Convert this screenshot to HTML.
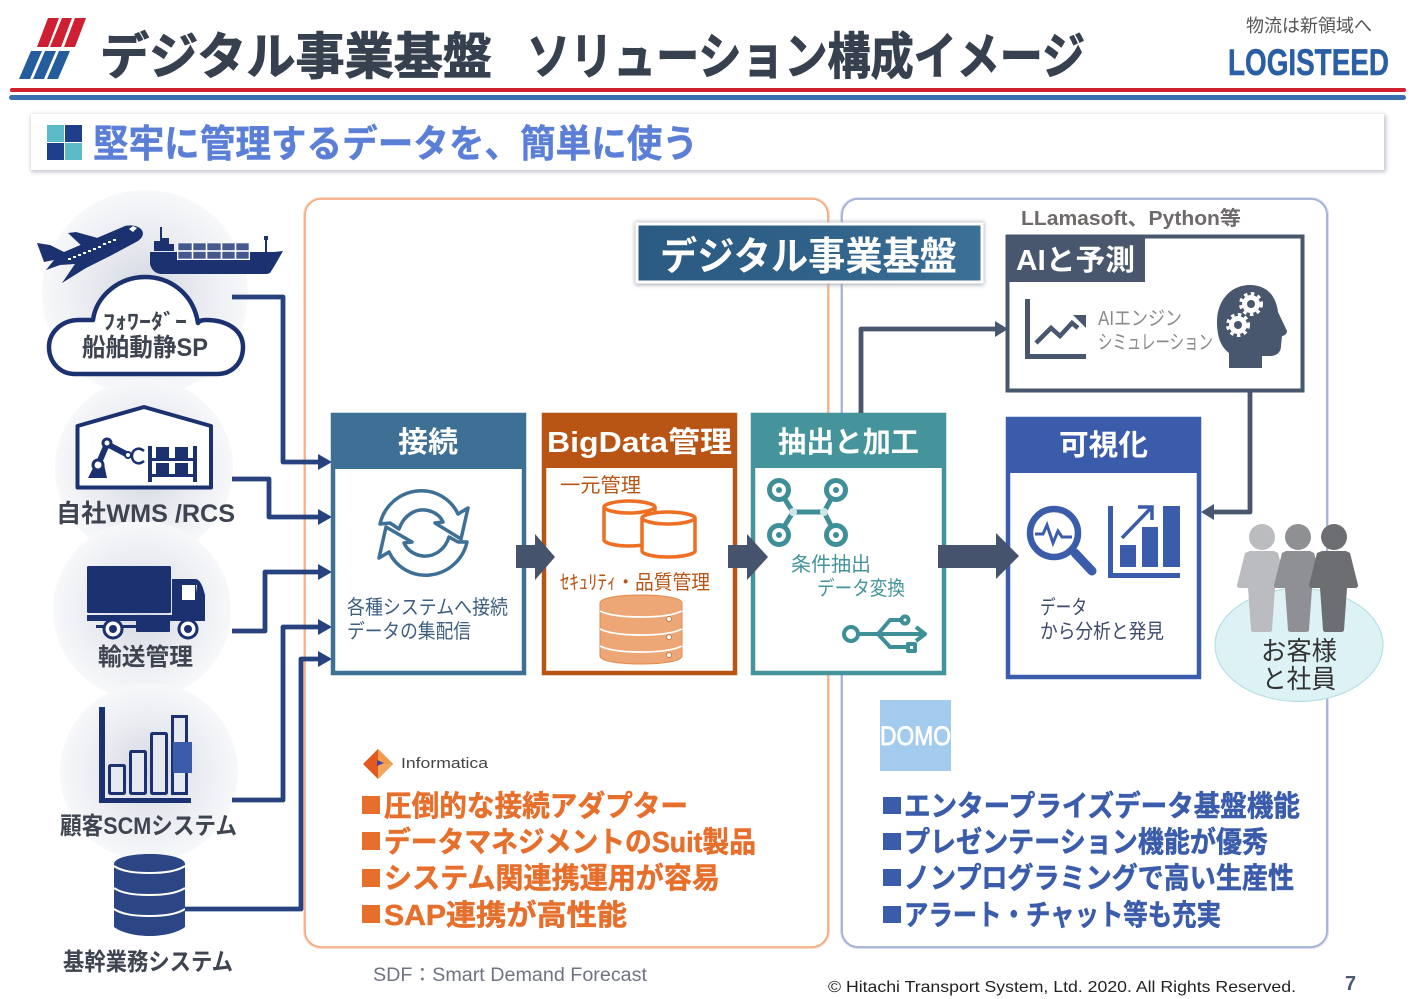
<!DOCTYPE html>
<html lang="ja"><head><meta charset="utf-8"><title>デジタル事業基盤 ソリューション構成イメージ</title>
<style>
html,body{margin:0;padding:0;background:#fff;width:1414px;height:999px;overflow:hidden}
svg{display:block}
text{font-family:"Liberation Sans","Noto Sans CJK JP",sans-serif}
.b{font-weight:700}
</style></head><body>
<svg width="1414" height="999" viewBox="0 0 1414 999" xmlns="http://www.w3.org/2000/svg">
<defs>
<radialGradient id="halo"><stop offset="0" stop-color="#d3d7e1"/><stop offset=".55" stop-color="#e9ebf0"/><stop offset="1" stop-color="#f7f8fa"/></radialGradient>
<linearGradient id="hdr" x1="0" x2="1"><stop offset="0" stop-color="#2b5a82"/><stop offset=".5" stop-color="#2f6189"/><stop offset="1" stop-color="#3d7097"/></linearGradient>
<filter id="sh" x="-5%" y="-10%" width="110%" height="120%"><feGaussianBlur stdDeviation="2"/></filter>
</defs>

<!-- logo -->
<g fill="#cf1f32"><path d="M48 18h11l-11 29H37zM62 18h10L61 47H50zM75 18h11L75 47H64z"/></g>
<g fill="#245c9e"><path d="M31 51h11L30 79H19zM45 51h11L44 79H33zM59 51h11L58 79H47z"/></g>

<text x="100" y="74" class="b" font-size="50" fill="#37404f" stroke="#37404f" stroke-width="1" textLength="392" lengthAdjust="spacingAndGlyphs">デジタル事業基盤</text>
<text x="527" y="74" class="b" font-size="50" fill="#37404f" stroke="#37404f" stroke-width="1" textLength="558" lengthAdjust="spacingAndGlyphs">ソリューション構成イメージ</text>
<text x="1246" y="32" font-size="18" fill="#555" textLength="126" lengthAdjust="spacingAndGlyphs">物流は新領域へ</text>
<text x="1228" y="75" class="b" font-size="37" fill="#2a5fa5" stroke="#2a5fa5" stroke-width=".5" textLength="161" lengthAdjust="spacingAndGlyphs">LOGISTEED</text>

<rect x="10" y="88" width="1396" height="4" rx="2" fill="#d1202f"/>
<rect x="9" y="95" width="1397" height="5" rx="2.5" fill="#3a70ae"/>

<!-- subtitle -->
<rect x="31" y="115" width="1355" height="57" fill="#c0c3cc" filter="url(#sh)"/>
<rect x="31" y="114" width="1353" height="56" fill="#fff"/>
<rect x="47" y="125" width="17" height="17" fill="#5bbcc8"/><rect x="65" y="125" width="17" height="17" fill="#1f3f8c"/>
<rect x="47" y="143" width="17" height="17" fill="#1f3f8c"/><rect x="65" y="143" width="17" height="17" fill="#5bbcc8"/>
<text x="93" y="157" class="b" font-size="38" fill="#5b7fd6" stroke="#5b7fd6" stroke-width=".4" textLength="605" lengthAdjust="spacingAndGlyphs">堅牢に管理するデータを、簡単に使う</text>

<!-- panels -->
<rect x="305" y="199" width="523" height="748" rx="16" fill="none" stroke="#fbd9c4" stroke-width="4"/>
<rect x="305" y="199" width="523" height="748" rx="16" fill="#fff" stroke="#f3a77c" stroke-width="1.600"/>
<rect x="842" y="199" width="485" height="748" rx="16" fill="none" stroke="#d9def0" stroke-width="4"/>
<rect x="842" y="199" width="485" height="748" rx="16" fill="#fff" stroke="#a3b1d4" stroke-width="1.800"/>

<!-- halos -->
<circle cx="145" cy="293" r="103" fill="url(#halo)"/>
<circle cx="144" cy="468" r="89" fill="url(#halo)"/>
<circle cx="142" cy="610" r="89" fill="url(#halo)"/>
<circle cx="149" cy="772" r="89" fill="url(#halo)"/>

<!-- plane -->
<path fill="#1b3170" d="M37 243L50 245L64 252L125 226Q135 224 141 229Q146 235 138 241L110 256L86 268L62 283L75 264L60 265L46 270L54 260L44 262Z"/>
<path fill="#1b3170" d="M68 233L76 232L105 240L86 250Z"/>
<path fill="#fff" d="M129 229l4-3 4 2-4 4zM68 258h3v2h-3zM73 256h3v2h-3zM78 254h3v2h-3zM83 252h3v2h-3zM88 250h3v2h-3zM93 248h3v2h-3zM98 246h3v2h-3zM103 243h3v2h-3zM108 241h3v2h-3zM113 239h3v2h-3z"/>
<!-- ship -->
<path fill="#1b3170" d="M150 252h124l9-1-8 14-5 8-3 1H162c-7 0-11-5-12-10z"/>
<path fill="#1b3170" d="M160 227h2v11h7v6h5v7h-20v-10h6z"/>
<path fill="#1b3170" d="M264 236h4v4h-1v12h-2v-12h-1z"/>
<rect x="177" y="243" width="73" height="17" fill="#fff"/>
<g stroke="#fff" stroke-width=".6" fill="#46598f"><rect x="178" y="243" width="14" height="7.500"/><rect x="193" y="243" width="13" height="7.500"/><rect x="207" y="243" width="14" height="7.500"/><rect x="222" y="243" width="13" height="7.500"/><rect x="236" y="243" width="13" height="7.500"/></g>
<g stroke="#fff" stroke-width=".6" fill="#46598f"><rect x="178" y="251.500" width="14" height="7.500"/><rect x="193" y="251.500" width="13" height="7.500"/><rect x="207" y="251.500" width="14" height="7.500"/><rect x="222" y="251.500" width="13" height="7.500"/><rect x="236" y="251.500" width="13" height="7.500"/></g>

<!-- cloud -->
<path d="M75 374c-16 0-26-13-26-27 0-14 12-27 30-27h14c3-24 26-43 52-43 25 0 46 16 52 41l1 5c1-2 4-3 8-3 21 0 37 10 37 27 0 16-11 27-26 27z" fill="#fff" stroke="#1b3170" stroke-width="4.500" stroke-linejoin="round"/>
<text x="103" y="329" class="b" font-size="21" fill="#3e4450" textLength="84" lengthAdjust="spacingAndGlyphs">ﾌｫﾜｰﾀﾞｰ</text>
<text x="82" y="356" class="b" font-size="25" fill="#3e4450" textLength="126" lengthAdjust="spacingAndGlyphs">船舶動静SP</text>

<!-- warehouse -->
<path d="M77.500 487.500V426L144 407l67 19v61.500z" fill="#fff" stroke="#1b3170" stroke-width="4" stroke-linejoin="round"/>
<path fill="none" stroke="#1b3170" stroke-width="6" d="M98 465l9-21M107 444l21 11"/>
<path fill="#1b3170" d="M88 478l7-14h9l3 14z"/>
<circle cx="98" cy="465" r="5" fill="#fff" stroke="#1b3170" stroke-width="3"/>
<circle cx="107" cy="443" r="4" fill="#fff" stroke="#1b3170" stroke-width="3"/>
<circle cx="128" cy="455" r="3" fill="#fff" stroke="#1b3170" stroke-width="2"/>
<path fill="none" stroke="#1b3170" stroke-width="2.500" d="M144 451c-6-5-12-1-12 5s6 10 12 5"/>
<g fill="#1b3170"><rect x="148" y="446" width="4" height="36"/><rect x="193" y="446" width="4" height="36"/><rect x="148" y="458" width="49" height="3"/><rect x="148" y="474" width="49" height="3"/>
<rect x="156" y="447" width="13" height="11"/><rect x="175" y="447" width="13" height="11"/><rect x="156" y="463" width="13" height="11"/><rect x="175" y="463" width="13" height="11"/></g>
<text x="56" y="522" class="b" font-size="25" fill="#3e4450" textLength="179" lengthAdjust="spacingAndGlyphs">自社WMS /RCS</text>

<!-- truck -->
<rect x="87" y="566" width="84" height="47" rx="1.500" fill="#1b3170"/>
<path fill="#1b3170" d="M172 579h23c4 0 6 4 8 9l2 7v26H172z"/>
<rect x="87" y="615" width="118" height="6" fill="#1b3170"/>
<path fill="#fff" d="M182 585h15v15h-15z"/><path fill="#1b3170" d="M196 585l2 15h-3v-15z"/>
<rect x="96" y="625" width="40" height="3" fill="#1b3170"/>
<rect x="136" y="620" width="34" height="12" rx="1" fill="#1b3170"/>
<circle cx="113" cy="629" r="9" fill="#fff" stroke="#1b3170" stroke-width="3"/><circle cx="113" cy="629" r="4" fill="#1b3170"/>
<circle cx="188" cy="629" r="9" fill="#fff" stroke="#1b3170" stroke-width="3"/><circle cx="188" cy="629" r="4" fill="#1b3170"/>
<text x="98" y="665" class="b" font-size="24" fill="#3e4450" textLength="95" lengthAdjust="spacingAndGlyphs">輸送管理</text>

<!-- scm chart -->
<path fill="#1b3170" d="M99 707h6v91h86v5H99z"/>
<g fill="#e6e9ef" stroke="#1b3170" stroke-width="3"><rect x="109.500" y="765.500" width="15" height="28" rx="1"/><rect x="130.500" y="751.500" width="15" height="42" rx="1"/><rect x="151.500" y="733.500" width="15" height="60" rx="1"/><rect x="172.500" y="716.500" width="14" height="77"/></g>
<rect x="173" y="742" width="19" height="31" fill="#3a5cab"/>
<text x="60" y="834" class="b" font-size="24" fill="#3e4450" textLength="177" lengthAdjust="spacingAndGlyphs">顧客SCMシステム</text>

<!-- db -->
<path fill="#2c4584" d="M114 864c0-6 16-10 35.500-10s35.500 4 35.500 10v63c-6 5-20 9-35.500 9s-29-4-35.500-9z"/>
<g fill="none" stroke="#fff" stroke-width="2"><path d="M114 866c7 5 20 7 35.500 7s28-2 35.500-7"/><path d="M114 888c7 5 20 7 35.500 7s28-2 35.500-7"/><path d="M114 909c7 5 20 7 35.500 7s28-2 35.500-7"/></g>
<text x="63" y="970" class="b" font-size="24" fill="#3e4450" textLength="170" lengthAdjust="spacingAndGlyphs">基幹業務システム</text>

<!-- connectors -->
<g fill="none" stroke="#27427f" stroke-width="4.800" stroke-linejoin="round">
<path d="M232 297h51v165h40"/><path d="M232 479h37v38h54"/><path d="M232 631h33v-59h58"/><path d="M232 800h51V627h40"/><path d="M185 909h116V659h22"/>
</g>
<g fill="#27427f"><path d="M318 454l14 8-14 8zM318 509l14 8-14 8zM318 564l14 8-14 8zM318 619l14 8-14 8zM318 651l14 8-14 8z"/></g>

<!-- header label -->
<rect x="635" y="222" width="349" height="63" fill="#a9aeb8" filter="url(#sh)"/>
<rect x="637" y="224" width="345" height="58" fill="url(#hdr)" stroke="#fff" stroke-width="3"/>
<text x="660" y="270" class="b" font-size="39" fill="#fff" textLength="297" lengthAdjust="spacingAndGlyphs">デジタル事業基盤</text>

<text x="1021" y="225" class="b" font-size="20" fill="#6f6a6a" textLength="220" lengthAdjust="spacingAndGlyphs">LLamasoft、Python等</text>

<!-- box 1 -->
<rect x="333" y="415" width="191" height="258" fill="#fff" stroke="#3e7096" stroke-width="4.500"/>
<rect x="331" y="413" width="195" height="56" fill="#3e7096"/>
<text x="398" y="452" class="b" font-size="29" fill="#fff" textLength="60" lengthAdjust="spacingAndGlyphs">接続</text>
<g fill="none" stroke="#3e7096" stroke-width="3.500" stroke-linejoin="round">
<path d="M386 522l9 6c5-14 16-20 26-19 8 1 15 5 18 12l-8 1 26 16 7-31-10 6c-7-15-23-25-41-23-18 2-33 15-37 33z" transform="translate(4 1)"/>
<path d="M462 527l-9-5c-4 13-15 20-26 19-9-1-16-6-19-13l8-1-26-15-7 31 10-6c7 15 23 25 41 23 18-2 33-15 37-33z" transform="translate(-4 15)"/>
</g>
<text x="347" y="614" font-size="20" fill="#3e5f80" textLength="161" lengthAdjust="spacingAndGlyphs">各種システムへ接続</text>
<text x="347" y="638" font-size="20" fill="#3e5f80" textLength="124" lengthAdjust="spacingAndGlyphs">データの集配信</text>

<!-- box 2 -->
<rect x="544" y="415" width="191" height="258" fill="#fff" stroke="#b85414" stroke-width="4.500"/>
<rect x="542" y="413" width="195" height="55" fill="#b85414"/>
<text x="547" y="452" class="b" font-size="29" fill="#fff" textLength="185" lengthAdjust="spacingAndGlyphs">BigData管理</text>
<text x="560" y="492" font-size="20" fill="#b85414" textLength="81" lengthAdjust="spacingAndGlyphs">一元管理</text>
<g fill="#fff" stroke="#ee6f22" stroke-width="3.500">
<path d="M604 507c0-3 12-6 25-6s26 3 26 6v33c0 3-12 6-26 6s-25-3-25-6z"/><path d="M604 507c0 3 12 6 25 6s26-3 26-6"/>
<path d="M642 518c0-3 12-6 26-6s27 3 27 6v33c0 3-12 6-27 6s-26-3-26-6z"/><path d="M642 518c0 3 12 6 26 6s27-3 27-6"/>
</g>
<text x="560" y="589" font-size="20" fill="#b85414" textLength="150" lengthAdjust="spacingAndGlyphs">ｾｷｭﾘﾃｨ・品質管理</text>
<g fill="#eda675" stroke="#e18a50" stroke-width="1">
<path d="M600 603c0-5 18-8 41-8s41 3 41 8v53c0 5-18 8-41 8s-41-3-41-8z"/>
</g>
<g fill="none" stroke="#fff" stroke-width="1.800"><path d="M600 611c8 4 23 6 41 6s33-2 41-6"/><path d="M600 629c8 4 23 6 41 6s33-2 41-6"/><path d="M600 646c8 4 23 6 41 6s33-2 41-6"/></g>
<g fill="#fff" stroke="#c97a45"><circle cx="669" cy="619" r="2.500"/><circle cx="669" cy="637" r="2.500"/><circle cx="669" cy="655" r="2.500"/></g>

<!-- box 3 -->
<rect x="753" y="415" width="191" height="258" fill="#fff" stroke="#45949c" stroke-width="4.500"/>
<rect x="751" y="413" width="195" height="55" fill="#45949c"/>
<text x="778" y="452" class="b" font-size="29" fill="#fff" textLength="141" lengthAdjust="spacingAndGlyphs">抽出と加工</text>
<g fill="none" stroke="#3f8f98">
<path d="M779 490l14 22h31l12-22M779 535l14-23M824 512l12 23" stroke-width="5"/>
<circle cx="779" cy="490" r="9.500" stroke-width="5" fill="#fff"/><circle cx="836" cy="490" r="9.500" stroke-width="5" fill="#fff"/><circle cx="779" cy="535" r="9.500" stroke-width="5" fill="#fff"/><circle cx="836" cy="535" r="9.500" stroke-width="5" fill="#fff"/>
</g>
<g fill="#3f8f98"><circle cx="779" cy="490" r="3"/><circle cx="836" cy="490" r="3"/><circle cx="779" cy="535" r="3"/><circle cx="836" cy="535" r="3"/></g>
<g fill="#cfe6e8"><circle cx="793" cy="512" r="4"/><circle cx="824" cy="512" r="4"/></g>
<text x="791" y="571" font-size="20" fill="#45949c" textLength="80" lengthAdjust="spacingAndGlyphs">条件抽出</text>
<text x="817" y="595" font-size="20" fill="#45949c" textLength="88" lengthAdjust="spacingAndGlyphs">データ変換</text>
<g fill="none" stroke="#3f8f98" stroke-width="4" stroke-linejoin="round">
<ellipse cx="851" cy="634" rx="7" ry="7"/><path d="M858 634h64M878 634l12-14h12M878 634l12 13h18"/>
<path d="M916 627l9 7-9 7"/><circle cx="905" cy="620" r="3.500"/><rect x="908" y="644" width="7" height="7"/>
</g>

<!-- box 4 -->
<rect x="1008" y="419" width="191" height="258" fill="#fff" stroke="#3a5cab" stroke-width="4.500"/>
<rect x="1006" y="417" width="195" height="56" fill="#3a5cab"/>
<text x="1059" y="455" class="b" font-size="29" fill="#fff" textLength="89" lengthAdjust="spacingAndGlyphs">可視化</text>
<g fill="none" stroke="#3a5cab"><circle cx="1054" cy="533" r="24" stroke-width="6.500"/><path d="M1075 553l17 18" stroke-width="9" stroke-linecap="round"/><path d="M1035 534h8l4-9 6 18 5-12 4 6h10" stroke-width="3"/></g>
<g fill="#3a5cab"><path d="M1108 506h5v67h67v5h-72z"/><rect x="1120" y="545" width="16" height="22"/><rect x="1142" y="527" width="16" height="40"/><rect x="1163" y="506" width="17" height="61"/></g>
<path d="M1122 538l28-29M1138 507h14v13" stroke="#3a5cab" stroke-width="3.500" fill="none"/>
<text x="1040" y="614" font-size="20" fill="#3d4a6c" textLength="47" lengthAdjust="spacingAndGlyphs">データ</text>
<text x="1040" y="638" font-size="20" fill="#3d4a6c" textLength="124" lengthAdjust="spacingAndGlyphs">から分析と発見</text>

<!-- arrows -->
<g fill="#46536c"><path d="M516 545h19v-11l20 23-20 23v-12h-19z"/><path d="M728 545h19v-11l21 23-21 23v-12h-19z"/><path d="M938 545h58v-12l23 23-23 23v-11h-58z"/></g>

<!-- AI box -->
<rect x="1007.500" y="236.500" width="295" height="154" fill="#fff" stroke="#48566e" stroke-width="4"/>
<rect x="1006" y="235" width="139" height="47" fill="#48566e"/>
<text x="1016" y="270" class="b" font-size="29" fill="#fff" textLength="119" lengthAdjust="spacingAndGlyphs">AIと予測</text>
<path d="M1025 299h5v55h56v5h-61z" fill="#48566e"/>
<path d="M1036 343l15-15 9 8 12-13 6 5" fill="none" stroke="#48566e" stroke-width="4.500"/><path d="M1073 315h13v13z" fill="#48566e"/>
<text x="1098" y="325" font-size="20" fill="#8a8a8a" textLength="84" lengthAdjust="spacingAndGlyphs">AIエンジン</text>
<text x="1098" y="349" font-size="20" fill="#8a8a8a" textLength="115" lengthAdjust="spacingAndGlyphs">シミュレーション</text>
<path fill="#48566e" d="M1229 368V353C1221 347 1217 337 1217 322C1217 300 1231 285 1250 285C1266 285 1276 295 1278 312L1287 331C1287 334 1284 336 1282 336L1281 346C1281 352 1277 356 1270 356H1262V368Z"/>
<g fill="#fff"><circle cx="1251" cy="304" r="9"/><circle cx="1238" cy="325" r="9"/></g>
<g fill="none" stroke="#fff" stroke-width="3" stroke-dasharray="3.500 3.500"><circle cx="1251" cy="304" r="10.500"/><circle cx="1238" cy="325" r="10.500"/></g>
<g fill="#48566e"><circle cx="1251" cy="304" r="4"/><circle cx="1238" cy="325" r="4"/></g>

<!-- dark connectors -->
<g fill="none" stroke="#48566e" stroke-width="4.800" stroke-linejoin="round"><path d="M861 413v-84h136"/><path d="M1250 392v120h-40"/></g>
<g fill="#48566e"><path d="M995 321l13 8-13 8zM1214 504l-13 8 13 8z"/></g>

<!-- people -->
<ellipse cx="1299" cy="645" rx="84" ry="56.500" fill="#dcf2f5" stroke="#b8e0e3" stroke-width="1.200"/>
<g>
<circle cx="1262" cy="537" r="13" fill="#bbbcbf"/><path fill="#bbbcbf" d="M1250 551h24l4 2 8 32c0 2-1 3-3 3h-8l-3 42c0 1-1 2-3 2h-15c-2 0-3-1-3-2l-3-42h-8c-2 0-3-1-3-3l8-32z"/>
<circle cx="1298" cy="537" r="13" fill="#8f9093"/><path fill="#8f9093" d="M1286 551h24l4 2 9 32c0 2-1 3-3 3h-8l-3 42c0 1-1 2-3 2h-15c-2 0-3-1-3-2l-3-42h-8c-2 0-3-1-3-3l8-32z"/>
<circle cx="1334" cy="537" r="13" fill="#6d6e71"/><path fill="#6d6e71" d="M1322 551h24l4 2 8 32c0 2-1 3-3 3h-8l-3 42c0 1-1 2-3 2h-15c-2 0-3-1-3-2l-3-42h-8c-2 0-3-1-3-3l8-32z"/>
</g>
<text x="1261" y="660" font-size="26" fill="#333" textLength="76" lengthAdjust="spacingAndGlyphs">お客様</text>
<text x="1262" y="688" font-size="26" fill="#333" textLength="74" lengthAdjust="spacingAndGlyphs">と社員</text>

<!-- informatica -->
<path d="M378 749l15 15-15 15-15-15z" fill="#e2591e"/><path d="M378 749l15 15h-15z" fill="#f39a4a"/><path d="M378 764h15l-15 15z" fill="#f2a65a"/><path d="M377 760l7 3-7 3z" fill="#4a3ea8"/>
<text x="401" y="768" font-size="15" fill="#444" textLength="87" lengthAdjust="spacingAndGlyphs">Informatica</text>

<!-- orange bullets -->
<g font-size="29" fill="#e76f2c" stroke="#e76f2c" stroke-width=".5" font-weight="700">
<text x="384" y="816" textLength="304" lengthAdjust="spacingAndGlyphs">圧倒的な接続アダプター</text>
<text x="384" y="852" textLength="372" lengthAdjust="spacingAndGlyphs">データマネジメントのSuit製品</text>
<text x="384" y="888" textLength="336" lengthAdjust="spacingAndGlyphs">システム関連携運用が容易</text>
<text x="384" y="925" textLength="243" lengthAdjust="spacingAndGlyphs">SAP連携が高性能</text>
</g>
<g fill="#e76f2c"><rect x="362" y="796" width="18" height="18"/><rect x="362" y="832" width="18" height="18"/><rect x="362" y="869" width="18" height="18"/><rect x="362" y="905" width="18" height="18"/></g>

<!-- domo -->
<rect x="880" y="700" width="71" height="71" fill="#a3cbee"/>
<text x="880" y="745" font-size="27" fill="#fff" stroke="#fff" stroke-width=".8" textLength="71" lengthAdjust="spacingAndGlyphs">DOMO</text>

<!-- blue bullets -->
<g font-size="29" fill="#3a5cab" stroke="#3a5cab" stroke-width=".5" font-weight="700">
<text x="904" y="816" textLength="396" lengthAdjust="spacingAndGlyphs">エンタープライズデータ基盤機能</text>
<text x="904" y="852" textLength="364" lengthAdjust="spacingAndGlyphs">プレゼンテーション機能が優秀</text>
<text x="904" y="888" textLength="390" lengthAdjust="spacingAndGlyphs">ノンプログラミングで高い生産性</text>
<text x="904" y="925" textLength="317" lengthAdjust="spacingAndGlyphs">アラート・チャット等も充実</text>
</g>
<g fill="#3a5cab"><rect x="883" y="797" width="18" height="17"/><rect x="883" y="833" width="18" height="17"/><rect x="883" y="869" width="18" height="17"/><rect x="883" y="906" width="18" height="17"/></g>

<!-- footer -->
<text x="373" y="981" font-size="19" fill="#6f7480" textLength="274" lengthAdjust="spacingAndGlyphs">SDF：Smart Demand Forecast</text>
<text x="828" y="992" font-size="16" fill="#222" textLength="468" lengthAdjust="spacingAndGlyphs">© Hitachi Transport System, Ltd. 2020. All Rights Reserved.</text>
<text x="1345" y="990" class="b" font-size="20" fill="#4a5a70">7</text>
</svg>
</body></html>
